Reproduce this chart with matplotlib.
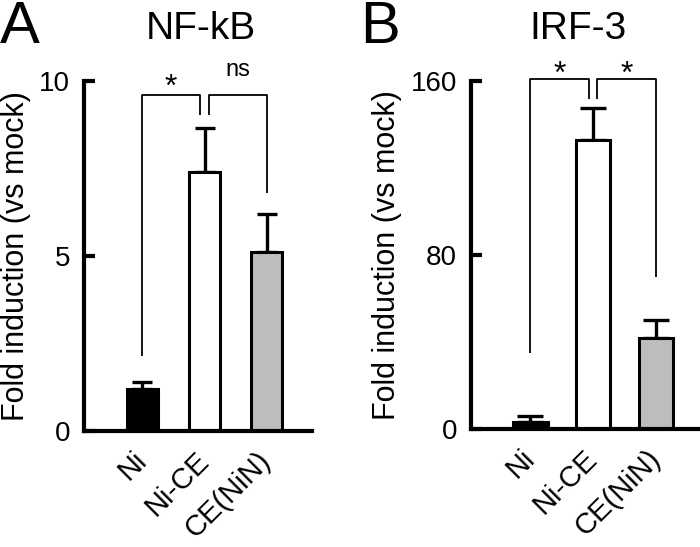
import matplotlib
matplotlib.use("Agg")
import matplotlib.pyplot as plt

plt.rcParams["font.family"] = ["Liberation Sans", "DejaVu Sans"]

groups = ["Ni", "Ni-CE", "CE(NiN)"]
colors = ["black", "white", "#bdbdbd"]

nfkb_vals = [1.2, 7.4, 5.1]
nfkb_err = [0.2, 1.25, 1.1]
irf3_vals = [3, 133, 42]
irf3_err = [3, 14.5, 8]

# bracket heights: (top, left drop, inner drops, right drop)
nfkb_brk = [9.6, 2.15, 9.03, 6.8]
irf3_brk = [161, 35, 151.7, 70]
nfkb_marks = ["*", "ns"]
irf3_marks = ["*", "*"]

fig = plt.figure(figsize=(7, 5.47), dpi=100)


def panel(rect, vals, err, ymax, yticks, title, title_x, brk, marks, gap, bw, cap, star_y, ns_y):
    ax = fig.add_axes(rect)
    x = range(len(groups))
    ax.bar(x, vals, width=bw, color=colors, edgecolor="black", linewidth=2.2, zorder=2)
    ax.errorbar(x, vals, yerr=[[0] * len(err), err], fmt="none", ecolor="black",
                elinewidth=2.4, capsize=cap, capthick=2.4, zorder=1)
    ax.set_xlim(-0.94, 2.73)
    ax.set_ylim(0, ymax)
    ax.set_yticks(yticks)
    ax.set_xticks(list(x))
    ax.set_xticklabels(groups, rotation=45, ha="right", va="center",
                       rotation_mode="anchor", fontsize=21)
    ax.tick_params(axis="x", length=0, pad=18)
    ax.tick_params(axis="y", direction="in", length=8, width=3, labelsize=20, pad=10)
    for s in ["top", "right"]:
        ax.spines[s].set_visible(False)
    for s in ["left", "bottom"]:
        ax.spines[s].set_linewidth(3)
    ax.set_ylabel("Fold induction (vs mock)", fontsize=22, labelpad=6)

    top, ldrop, mid, rdrop = brk
    kw = dict(color="black", lw=1.3, clip_on=False, solid_capstyle="butt")
    ax.plot([0, 0, 1 - gap, 1 - gap], [ldrop, top, top, mid], **kw)
    ax.plot([1 + gap, 1 + gap, 2, 2], [mid, top, top, rdrop], **kw)
    ax.text(0.5 - gap / 2, star_y, marks[0], ha="center", va="center",
            fontsize=23 if marks[0] == "*" else 17, clip_on=False)
    ax.text(1.5 + gap / 2, star_y if marks[1] == "*" else ns_y, marks[1], ha="center",
            va="center", fontsize=23 if marks[1] == "*" else 17, clip_on=False)

    fig.text(title_x, 0.947, title, ha="center", va="center", fontsize=28)
    return ax


axA = panel([0.12, 0.2121, 0.3257, 0.6399], nfkb_vals, nfkb_err, 10, [0, 5, 10],
            "NF-kB", 0.287, nfkb_brk, nfkb_marks, 0.08, 0.5, 7.5, 9.8, 10.3)
axB = panel([0.6729, 0.2157, 0.33, 0.6362], irf3_vals, irf3_err, 160, [0, 80, 160],
            "IRF-3", 0.826, irf3_brk, irf3_marks, 0.06, 0.55, 9.5, 163, 166)

fig.text(0.0, 1.0, "A", ha="left", va="top", fontsize=43)
fig.text(0.515, 1.0, "B", ha="left", va="top", fontsize=43)

fig.savefig("out.png", dpi=100, facecolor="white")
